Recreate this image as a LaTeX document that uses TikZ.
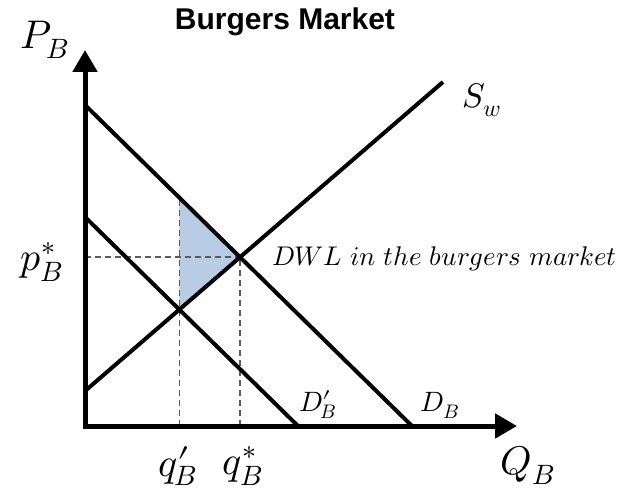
\documentclass[tikz,border=0pt]{standalone}
\usepackage{fontspec}
\usepackage{unicode-math}
\setmathfont{Latin Modern Math}
\setsansfont{Liberation Sans}
\usetikzlibrary{arrows.meta,intersections,positioning}
\definecolor{dwlblue}{RGB}{184,204,228}
\definecolor{guidegray}{RGB}{90,90,90}
\newcommand{\primesub}[2]{#1\mathord{\prime}\mkern-7mu{}_{#2}}

\begin{document}
\begin{tikzpicture}[x=1pt,y=-1pt,
    axis/.style={line width=5pt,{Triangle[length=22pt,width=24pt]}-{Triangle[length=22pt,width=24pt]}},
    curve/.style={line width=4pt},
    guide/.style={guidegray,line width=1.6pt,dash pattern=on 6pt off 4pt},
    biglbl/.style={font=\fontsize{40}{44}\selectfont,inner sep=0pt},
    midlbl/.style={font=\fontsize{34}{38}\selectfont,inner sep=0pt},
    smalllbl/.style={font=\fontsize{28}{32}\selectfont,inner sep=0pt}]
    \useasboundingbox (0,0) rectangle (638,495);

    % Axes points
    \coordinate (ptop) at (85,50);
    \coordinate (origin) at (85,426);
    \coordinate (qend) at (517,426);

    % Demand and supply lines
    \coordinate (db0) at (85,105);
    \coordinate (db1) at (412,426);
    \coordinate (dp0) at (85,217);
    \coordinate (dp1) at (298,426);
    \coordinate (sw0) at (85,391);
    \coordinate (sw1) at (443,82);
    \path[name path=dbline] (db0) -- (db1);
    \path[name path=dpline] (dp0) -- (dp1);
    \path[name path=swline] (sw0) -- (sw1);

    % Equilibria
    \path[name intersections={of=dbline and swline,by=eqstar}];
    \path[name intersections={of=dpline and swline,by=eqprime}];
    \path[name path=vprime] (eqprime) -- ++(0,-300);
    \path[name intersections={of=vprime and dbline,by=dbtop}];

    % DWL triangle
    \fill[dwlblue] (dbtop) -- (eqstar) -- (eqprime) -- cycle;

    % Dashed guides
    \draw[guide] (origin |- eqstar) -- (eqstar);
    \draw[guide] (eqstar |- origin) -- (eqstar);
    \draw[guide] (eqprime |- origin) -- (dbtop);

    % Lines
    \draw[curve] (db0) -- (db1);
    \draw[curve] (dp0) -- (dp1);
    \draw[curve] (sw0) -- (sw1);
    \draw[axis] (ptop) -- (origin) -- (qend);

    % Labels
    \node[font=\sffamily\bfseries\fontsize{30}{34}\selectfont] (title) at (285,22) {Burgers Market};
    \node[biglbl] (plbl) at (45,40) {$P_B$};
    \node[biglbl] (qlbl) at (528,465) {$Q_B$};
    \node[biglbl] (pstar) at (42,262) {$p_B^*$};
    \node[biglbl] (qprime) at (178,466) {$\primesub{q}{B}$};
    \node[biglbl] (qstar) at (243,466) {$q_B^*$};
    \node[midlbl] (swlbl) at (482,100) {$S_w$};
    \node[smalllbl,anchor=south west] (dplbl) at (299,419) {$\primesub{D}{B}$};
    \node[smalllbl,anchor=south west] (dblbl) at (420,419) {$D_B$};
    \node[font=\fontsize{27}{31}\selectfont,inner sep=0pt,anchor=west] (dwl) at (272,259) {$DWL\ in\ the\ burgers\ market$};
\end{tikzpicture}
\end{document}
